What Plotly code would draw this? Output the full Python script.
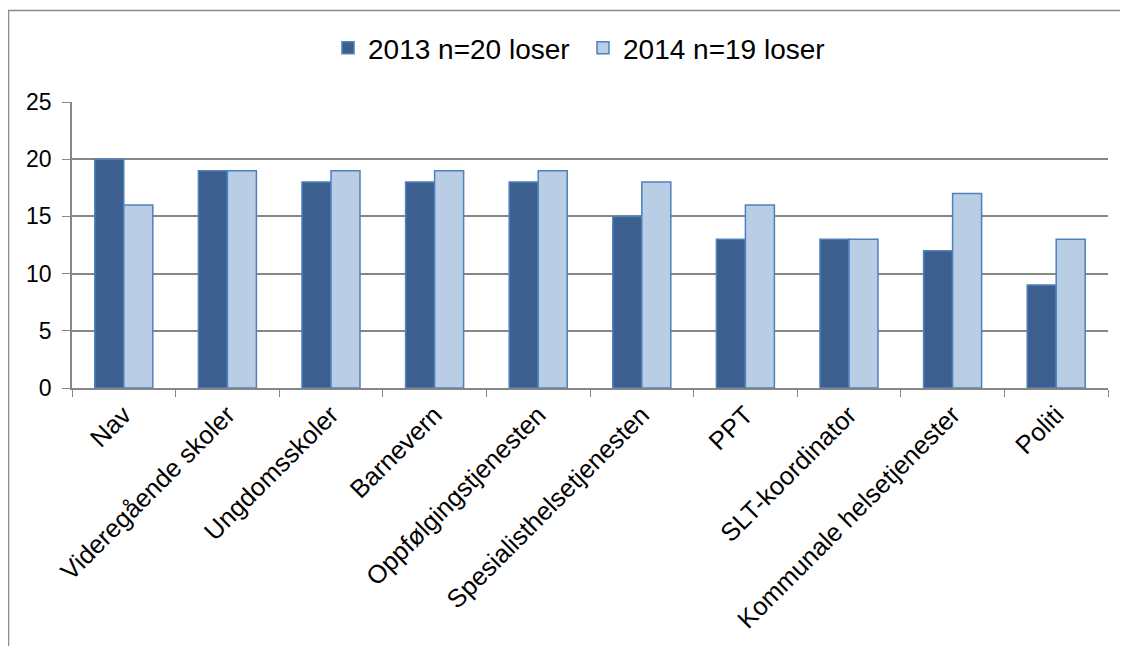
import plotly.graph_objects as go

categories = ["Nav", "Videregående skoler", "Ungdomsskoler", "Barnevern",
              "Oppfølgingstjenesten", "Spesialisthelsetjenesten", "PPT",
              "SLT-koordinator", "Kommunale helsetjenester", "Politi"]
values_2013 = [20, 19, 18, 18, 18, 15, 13, 13, 12, 9]
values_2014 = [16, 19, 19, 19, 19, 18, 16, 13, 17, 13]
series_names = ["2013 n=20 loser", "2014 n=19 loser"]
y_ticks = [0, 5, 10, 15, 20, 25]

W, H = 1128, 646
OFF = 8  # page body margin
L, R, T, B = 72 - OFF, 20 + OFF, 102 - OFF, 258 + OFF
pw, ph = W - L - R, H - T - B

def px_to_paper_x(px):
    return (px - OFF - L) / pw

def px_to_paper_y(py):
    return (H - B - (py - OFF)) / ph

fig = go.Figure()
fig.add_trace(go.Bar(x=categories, y=values_2013, name=series_names[0],
                     marker=dict(color="#3C5F8F", line=dict(color="#4F81BD", width=1.5))))
fig.add_trace(go.Bar(x=categories, y=values_2014, name=series_names[1],
                     marker=dict(color="#B9CDE5", line=dict(color="#4F81BD", width=1.5))))

fig.update_layout(
    width=W, height=H,
    margin=dict(l=L, r=R, t=T, b=B),
    paper_bgcolor="white", plot_bgcolor="white",
    barmode="group", bargap=0.44, bargroupgap=0,
    font=dict(family="Liberation Sans, Arial, sans-serif", size=24, color="black"),
    showlegend=True,
    legend=dict(orientation="h", x=px_to_paper_x(583), xanchor="center",
                y=px_to_paper_y(48), yanchor="middle",
                font=dict(size=28), itemwidth=30, entrywidth=210,
                bgcolor="rgba(0,0,0,0)"),
    shapes=[dict(type="rect", xref="paper", yref="paper",
                 x0=px_to_paper_x(8.5), x1=px_to_paper_x(W + 40),
                 y0=px_to_paper_y(H + 40), y1=px_to_paper_y(10.5),
                 line=dict(color="#8C8C8C", width=1.5), fillcolor="rgba(0,0,0,0)",
                 layer="below")],
)
fig.update_xaxes(showgrid=False, showline=True, linecolor="#868686", linewidth=1.5,
                 ticks="outside", tickson="boundaries", ticklen=7, tickcolor="#868686",
                 tickangle=-45, tickfont=dict(size=25.5))
fig.update_yaxes(range=[0, 25], tickvals=y_ticks, showgrid=True, gridcolor="#868686",
                 gridwidth=1.5, showline=True, linecolor="#868686", linewidth=1.5,
                 ticks="outside", ticklen=8, tickcolor="#868686", zeroline=False,
                 ticklabelstandoff=6, tickfont=dict(size=23))

fig.write_html("out.html")
